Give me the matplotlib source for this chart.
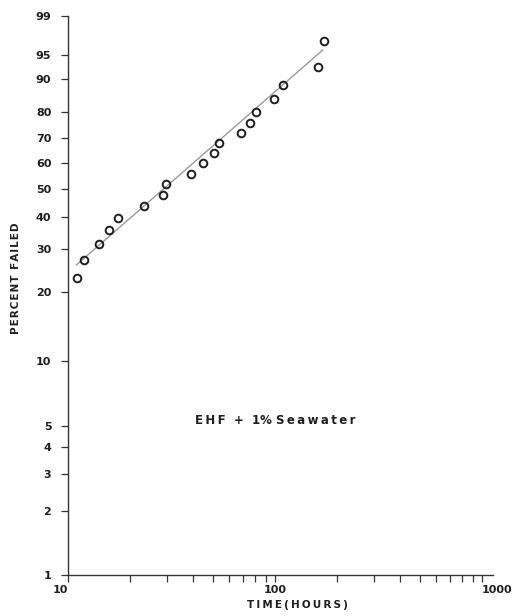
import numpy as np
import matplotlib
matplotlib.use("Agg")
import matplotlib.pyplot as plt
from matplotlib.ticker import FixedLocator, NullLocator

# failure times (hours) and cumulative percent failed
hours = [11.0, 11.9, 14.1, 15.7, 17.5, 23.2, 28.7, 29.6, 39.3, 45.0,
         50.5, 53.4, 68.7, 75.6, 81.2, 99.4, 109.0, 162.0, 172.0]
pct = [23.0, 27.2, 31.5, 35.7, 39.5, 43.7, 47.7, 51.9, 55.7, 60.0,
       64.1, 68.1, 72.1, 76.1, 80.1, 84.4, 88.5, 92.8, 97.0]

# fitted weibull line end points
fit_hours = [11.0, 170.0]
fit_pct = [26.0, 95.8]

y_ticks = [1, 2, 3, 4, 5, 10, 20, 30, 40, 50, 60, 70, 80, 90, 95, 99]
x_major = [10, 100, 1000]
x_minor = [20, 30, 40, 50, 60, 70, 80, 90,
           200, 300, 400, 500, 600, 700, 800, 900]


def weib(p):
    p = np.clip(np.asarray(p, dtype=float), 1e-6, 100 - 1e-6)
    return np.log(-np.log(1 - p / 100.0))


def weib_inv(w):
    return 100.0 * (1 - np.exp(-np.exp(w)))


def spaced(s, gap="\u2009"):
    # open up the lettering a little
    return gap.join(s)


ink = "#1e1e1e"
fig = plt.figure(figsize=(5.17, 6.16), dpi=100)
ax = fig.add_axes([68 / 517, 41 / 616, 425 / 517, 559 / 616])

ax.set_xscale("log")
ax.set_yscale("function", functions=(weib, weib_inv))
ax.set_xlim(10, 1130)
ax.set_ylim(1, 99)

ax.plot(fit_hours, fit_pct, color="#9a9a9a", lw=1.0, zorder=2)
ax.plot(hours, pct, "o", ms=5.5, mfc="none", mec=ink, mew=1.4, zorder=3)

for s in ("top", "right"):
    ax.spines[s].set_visible(False)
for s in ("left", "bottom"):
    ax.spines[s].set_color("#333333")
    ax.spines[s].set_linewidth(1.0)

ax.yaxis.set_major_locator(FixedLocator(y_ticks))
ax.yaxis.set_minor_locator(NullLocator())
ax.set_yticklabels([str(t) for t in y_ticks])
ax.tick_params(axis="y", direction="out", length=5, width=0.9,
               color="#333333", pad=7, labelsize=8, labelcolor=ink)

ax.xaxis.set_major_locator(FixedLocator(x_major + x_minor))
ax.xaxis.set_minor_locator(NullLocator())
ax.set_xticklabels(["10", "100", "1000"] + [""] * len(x_minor))
ax.tick_params(axis="x", direction="out", length=5, width=0.9,
               color="#333333", pad=2, labelsize=8, labelcolor=ink)
labels = ax.get_xticklabels()
labels[0].set_ha("right")
labels[2].set_ha("left")

for lab in ax.get_xticklabels() + ax.get_yticklabels():
    lab.set_fontweight("bold")

fig.text(16 / 517, 1 - 278 / 616, spaced("PERCENT FAILED", "\u200a"),
         rotation=90, ha="center", va="center", fontsize=7.5,
         fontweight="bold", color=ink)
fig.text(297 / 517, 1 - 605 / 616, spaced("TIME(HOURS)"), ha="center",
         va="center", fontsize=7.5, fontweight="bold", color=ink)
fig.text(275 / 517, 1 - 421 / 616,
         spaced("EHF") + "  +  1% " + spaced("Seawater"), ha="center",
         va="center", fontsize=8.5, fontweight="bold", color=ink)

fig.savefig("out.png", dpi=100, facecolor="white")
